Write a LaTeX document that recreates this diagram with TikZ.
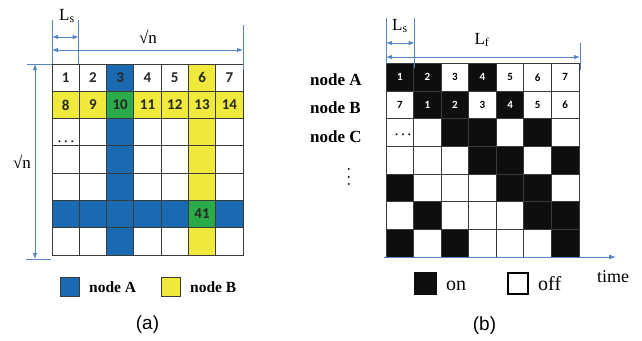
\documentclass[tikz,border=0pt]{standalone}
\usepackage{fontspec}
\setmainfont{Liberation Serif}
\newfontfamily\numfont{Carlito}
\newfontfamily\capfont{Liberation Sans}
\usetikzlibrary{arrows.meta}
\definecolor{cW}{HTML}{FFFFFF}
\definecolor{cB}{HTML}{1A6AB2}
\definecolor{cY}{HTML}{F0EA3C}
\definecolor{cG}{HTML}{2BAA4A}
\definecolor{cK}{HTML}{0D0F0F}
\definecolor{arr}{HTML}{5585C5}
\definecolor{gridc}{HTML}{3A3A3A}
\begin{document}
\begin{tikzpicture}[x=1pt,y=-1pt,
  acell/.style={draw=gridc, line width=0.9pt, minimum width=27.29pt, minimum height=27.29pt, inner sep=0pt, outer sep=0pt},
  bcell/.style={draw=gridc, line width=0.8pt, minimum width=27.57pt, minimum height=27.64pt, inner sep=0pt, outer sep=0pt},
  anum/.style={font=\numfont\bfseries\fontsize{15}{15}\selectfont, text=black!85, inner sep=0pt},
  bnum/.style={font=\numfont\bfseries\fontsize{11}{11}\selectfont, inner sep=0pt},
  dim/.style={draw=arr, line width=0.9pt},
  dimarr/.style={dim, {Latex[length=6pt,width=4.5pt]}-{Latex[length=6pt,width=4.5pt]}},
  axisarr/.style={dim, -{Latex[length=7pt,width=5pt]}},
  lbl/.style={font=\fontsize{17}{17}\selectfont, inner sep=0pt},
  rowlbl/.style={font=\bfseries\fontsize{17}{17}\selectfont, inner sep=0pt, anchor=base west},
  leglbl/.style={font=\bfseries\fontsize{15.5}{15.5}\selectfont, inner sep=0pt, anchor=base west},
  onoff/.style={font=\fontsize{20}{20}\selectfont, inner sep=0pt, anchor=base west},
  captxt/.style={font=\capfont\fontsize{19}{19}\selectfont, inner sep=0pt},
  legsq/.style={draw=gridc, line width=0.9pt}
]
\useasboundingbox (0,0) rectangle (642,340);
\fill[white] (0,0) rectangle (642,340);

% ---------------- (a) grid
\foreach \row [count=\r from 0] in {{W,W,B,W,W,Y,W},{Y,Y,G,Y,Y,Y,Y},{W,W,B,W,W,Y,W},{W,W,B,W,W,Y,W},{W,W,B,W,W,Y,W},{B,B,B,B,B,G,B},{W,W,B,W,W,Y,W}}{
  \foreach \col [count=\c from 0] in \row {
    \node[acell, fill=c\col] (a-\r-\c) at ({52+27.286*(\c+0.5)},{64+27.286*(\r+0.5)}) {};
  }
}
\foreach \t [count=\c from 0] in {1,...,7} \node[anum] (an0-\c) at (a-0-\c) {\t};
\foreach \t [count=\c from 0] in {8,...,14} \node[anum] (an1-\c) at (a-1-\c) {\t};
\node[anum] (an41) at (a-5-5) {41};
\node[font=\fontsize{16}{16}\selectfont, inner sep=0pt, anchor=base] (adots) at (66,142) {.\hspace{2.5pt}.\hspace{2.5pt}.};

% (a) dimensions
\coordinate (avT1) at (27,64); \coordinate (avT2) at (52,64);
\coordinate (avB1) at (26,259); \coordinate (avB2) at (51,259);
\coordinate (avA) at (35,64); \coordinate (avZ) at (35,259);
\draw[dim] (avT1) -- (avT2);
\draw[dim] (avB1) -- (avB2);
\draw[dimarr] (avA) -- (avZ);
\node[lbl] (asqL) at (22,162) {√n};

\coordinate (at1a) at (52,20); \coordinate (at1b) at (52,64);
\coordinate (at2a) at (78.7,20); \coordinate (at2b) at (78.7,64);
\coordinate (at3a) at (243,25); \coordinate (at3b) at (243,70);
\draw[dim] (at1a) -- (at1b);
\draw[dim] (at2a) -- (at2b);
\draw[dim] (at3a) -- (at3b);
\coordinate (aLs1) at (52,37); \coordinate (aLs2) at (78.7,37);
\coordinate (aN1) at (52,50); \coordinate (aN2) at (243,50);
\draw[dimarr] (aLs1) -- (aLs2);
\draw[dimarr] (aN1) -- (aN2);
\node[lbl] (aLs) at (67,16) {L\textsubscript{s}};
\node[lbl] (asqT) at (148,37) {√n};

% (a) legend
\draw[legsq, fill=cB] (60,277) rectangle (79,296);
\node[leglbl] (legA) at (89,292) {node A};
\draw[legsq, fill=cY] (161,277) rectangle (180,296);
\node[leglbl] (legB) at (190,292) {node B};
\node[captxt] (capa) at (147.5,325) {(a)};

% ---------------- (b) grid
\foreach \row [count=\r from 0] in {{K,K,W,K,W,W,W},{W,K,K,W,K,W,W},{W,W,K,K,W,K,W},{W,W,W,K,K,W,K},{K,W,W,W,K,K,W},{W,K,W,W,W,K,K},{K,W,K,W,W,W,K}}{
  \foreach \col [count=\c from 0] in \row {
    \node[bcell, fill=c\col] (b-\r-\c) at ({386+27.57*(\c+0.5)},{63.5+27.64*(\r+0.5)}) {};
  }
}
\foreach \t/\tc [count=\c from 0] in {1/white,2/white,3/black,4/white,5/black,6/black,7/black}
  \node[bnum, text=\tc] (bn0-\c) at (b-0-\c) {\t};
\foreach \t/\tc [count=\c from 0] in {7/black,1/white,2/white,3/black,4/white,5/black,6/black}
  \node[bnum, text=\tc] (bn1-\c) at (b-1-\c) {\t};
\node[font=\fontsize{16}{16}\selectfont, inner sep=0pt, anchor=base] (bdots) at (403,135) {.\hspace{2.5pt}.\hspace{2.5pt}.};

\node[rowlbl] (rA) at (310,85) {node A};
\node[rowlbl] (rB) at (310,113) {node B};
\node[rowlbl] (rC) at (310,142) {node C};
\node[font=\fontsize{16}{16}\selectfont, inner sep=0pt, rotate=90] (vd) at (349,177) {.\hspace{3.5pt}.\hspace{3.5pt}.};

% (b) dimensions
\coordinate (bt1a) at (386,18); \coordinate (bt1b) at (386,64);
\coordinate (bt2a) at (414.7,18); \coordinate (bt2b) at (414.7,68);
\coordinate (bt3a) at (580,43); \coordinate (bt3b) at (580,70);
\draw[dim] (bt1a) -- (bt1b);
\draw[dim] (bt2a) -- (bt2b);
\draw[dim] (bt3a) -- (bt3b);
\coordinate (bLs1) at (386,43); \coordinate (bLs2) at (414.7,43);
\coordinate (bLf1) at (386,57); \coordinate (bLf2) at (580,57);
\draw[dimarr] (bLs1) -- (bLs2);
\draw[dimarr] (bLf1) -- (bLf2);
\node[lbl] (bLs) at (400,26) {L\textsubscript{s}};
\node[lbl] (bLf) at (482,40) {L\textsubscript{f}};

% time axis
\coordinate (t0) at (384,257); \coordinate (t1) at (616,257);
\draw[axisarr] (t0) -- (t1);
\node[font=\fontsize{18}{18}\selectfont, inner sep=0pt, anchor=base west] (time) at (597,282) {time};

% (b) legend
\fill[cK] (414,272) rectangle (437,295);
\node[onoff] (on) at (446,290) {on};
\draw[line width=2pt, fill=white] (508,273) rectangle (528,294);
\node[onoff] (off) at (538,290) {off};
\node[captxt] (capb) at (484.5,326) {(b)};
\end{tikzpicture}
\end{document}
